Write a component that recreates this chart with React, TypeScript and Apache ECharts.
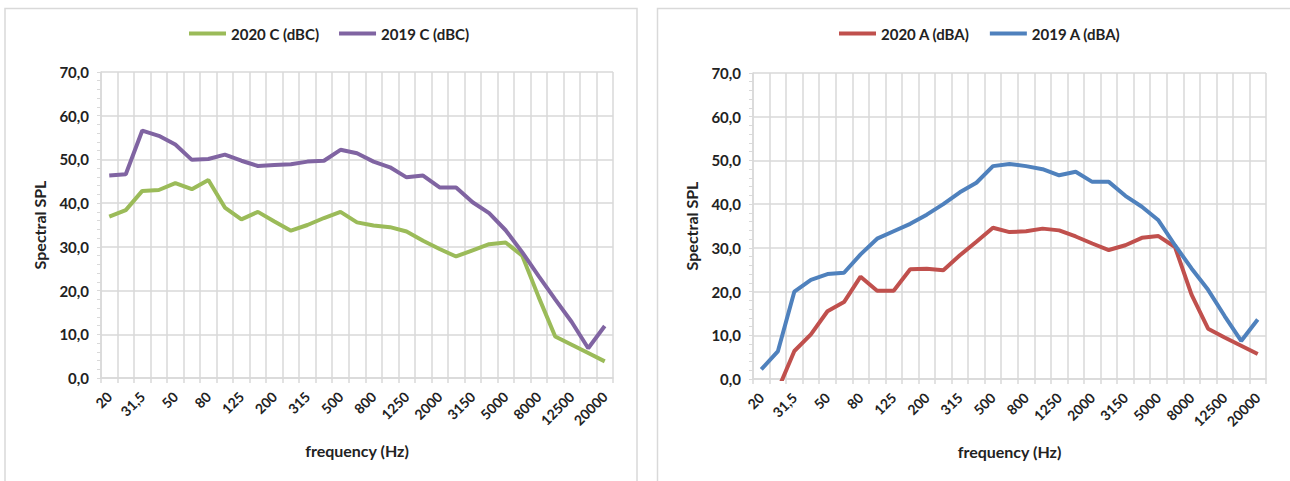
import React, { useEffect, useRef } from "react";
import * as echarts from "echarts";

// Third-octave band centre frequencies (Hz)
const bands = [
  "20", "25", "31,5", "40", "50", "63", "80", "100", "125", "160", "200",
  "250", "315", "400", "500", "630", "800", "1000", "1250", "1600", "2000",
  "2500", "3150", "4000", "5000", "6300", "8000", "10000", "12500", "16000", "20000",
];

// C-weighted spectra (dBC)
const c2020 = [
  36.9, 38.4, 42.8, 43.0, 44.6, 43.2, 45.3, 39.0, 36.3, 38.0, 35.8, 33.7, 35.0, 36.6,
  38.0, 35.6, 34.9, 34.5, 33.5, 31.4, 29.5, 27.8, 29.2, 30.6, 31.0, 28.0, 18.5, 9.5,
  7.6, 5.7, 3.8,
];
const c2019 = [
  46.3, 46.6, 56.6, 55.4, 53.4, 49.9, 50.1, 51.1, 49.7, 48.5, 48.7, 48.9, 49.5, 49.7,
  52.2, 51.4, 49.5, 48.2, 45.9, 46.3, 43.6, 43.6, 40.2, 37.7, 33.8, 28.8, 23.3, 18.0,
  12.8, 6.8, 11.9,
];

// A-weighted spectra (dBA)
const a2020 = [
  null, -2.5, 6.4, 10.2, 15.5, 17.6, 23.4, 20.2, 20.2, 25.1, 25.2, 24.9, 28.3, 31.4,
  34.6, 33.6, 33.8, 34.4, 34.0, 32.6, 31.0, 29.5, 30.6, 32.3, 32.7, 30.2, 19.3, 11.5,
  9.5, 7.6, 5.7,
];
const a2019 = [
  2.2, 6.3, 20.0, 22.7, 24.0, 24.3, 28.5, 32.1, 33.8, 35.5, 37.6, 40.0, 42.7, 44.9,
  48.7, 49.2, 48.7, 48.0, 46.6, 47.4, 45.1, 45.1, 41.9, 39.4, 36.3, 30.6, 25.3, 20.4,
  14.4, 8.7, 13.6,
];

const yTicks = { min: 0, max: 70, interval: 10 };

const FONT = "Lato, 'Open Sans', sans-serif";
const TEXT = "#222222";
const GRID = "#d9d9d9";

const xAxisFor = (gridIndex: number) => ({
  type: "category" as const,
  gridIndex,
  data: bands,
  boundaryGap: true,
  name: "frequency (Hz)",
  nameLocation: "middle" as const,
  nameGap: 64,
  nameTextStyle: { fontFamily: FONT, fontWeight: "bold", fontSize: 16, color: TEXT },
  axisLine: { show: true, lineStyle: { color: GRID, width: 1.5 } },
  axisTick: { show: true, interval: 0, length: 5, lineStyle: { color: GRID, width: 1.5 } },
  splitLine: { show: true, interval: 0, lineStyle: { color: GRID, width: 1.5 } },
  axisLabel: {
    interval: 1,
    rotate: 45,
    margin: 16,
    fontFamily: FONT,
    fontWeight: "bold",
    fontSize: 14,
    color: TEXT,
  },
});

const yAxisFor = (gridIndex: number) => ({
  type: "value" as const,
  gridIndex,
  min: yTicks.min,
  max: yTicks.max,
  interval: yTicks.interval,
  name: "Spectral SPL",
  nameLocation: "middle" as const,
  nameGap: 54,
  nameTextStyle: { fontFamily: FONT, fontWeight: "bold", fontSize: 16, color: TEXT },
  axisLine: { show: true, lineStyle: { color: GRID, width: 1.5 } },
  axisTick: { show: true, length: 4, lineStyle: { color: GRID, width: 1 } },
  minorTick: { show: true, splitNumber: 5, length: 4, lineStyle: { color: GRID, width: 1 } },
  splitLine: { show: true, lineStyle: { color: GRID, width: 1.5 } },
  axisLabel: {
    margin: 12,
    fontFamily: FONT,
    fontWeight: "bold",
    fontSize: 15,
    color: TEXT,
    formatter: (v: number) => v.toFixed(1).replace(".", ","),
  },
});

const lineSeries = (name: string, data: (number | null)[], color: string, idx: number) => ({
  name,
  type: "line" as const,
  xAxisIndex: idx,
  yAxisIndex: idx,
  data,
  showSymbol: false,
  symbol: "none",
  clip: true,
  lineStyle: { color, width: 4 },
  itemStyle: { color },
});

const legendFor = (names: string[], leftX: number) => ({
  data: names,
  left: leftX,
  top: 21,
  icon: "rect",
  itemWidth: 37,
  itemHeight: 4,
  itemGap: 20,
  textStyle: { fontFamily: FONT, fontWeight: "bold", fontSize: 15, color: TEXT },
});

export default function App() {
  const ref = useRef<HTMLDivElement>(null);

  useEffect(() => {
    document.body.style.margin = "0";
    if (!ref.current) return;
    const chart = echarts.init(ref.current, undefined, { renderer: "svg" });
    chart.setOption({
      animation: false,
      backgroundColor: "#ffffff",
      graphic: [
        {
          type: "rect",
          shape: { x: 5, y: 8.5, width: 632, height: 490 },
          style: { fill: "none", stroke: "#d9d9d9", lineWidth: 1.5 },
          silent: true,
        },
        {
          type: "rect",
          shape: { x: 657.5, y: 8.5, width: 650, height: 490 },
          style: { fill: "none", stroke: "#d9d9d9", lineWidth: 1.5 },
          silent: true,
        },
      ],
      legend: [
        { ...legendFor(["2020 C (dBC)", "2019 C (dBC)"], 184) },
        { ...legendFor(["2020 A (dBA)", "2019 A (dBA)"], 834) },
      ],
      grid: [
        { left: 101, top: 72, width: 512, height: 306, containLabel: false },
        { left: 753, top: 73, width: 513, height: 306, containLabel: false },
      ],
      xAxis: [xAxisFor(0), xAxisFor(1)],
      yAxis: [yAxisFor(0), yAxisFor(1)],
      series: [
        lineSeries("2020 C (dBC)", c2020, "#9BBB59", 0),
        lineSeries("2019 C (dBC)", c2019, "#8064A2", 0),
        lineSeries("2020 A (dBA)", a2020, "#C0504D", 1),
        lineSeries("2019 A (dBA)", a2019, "#4F81BD", 1),
      ],
    });
    return () => chart.dispose();
  }, []);

  return <div ref={ref} style={{ width: 1290, height: 481 }} />;
}
